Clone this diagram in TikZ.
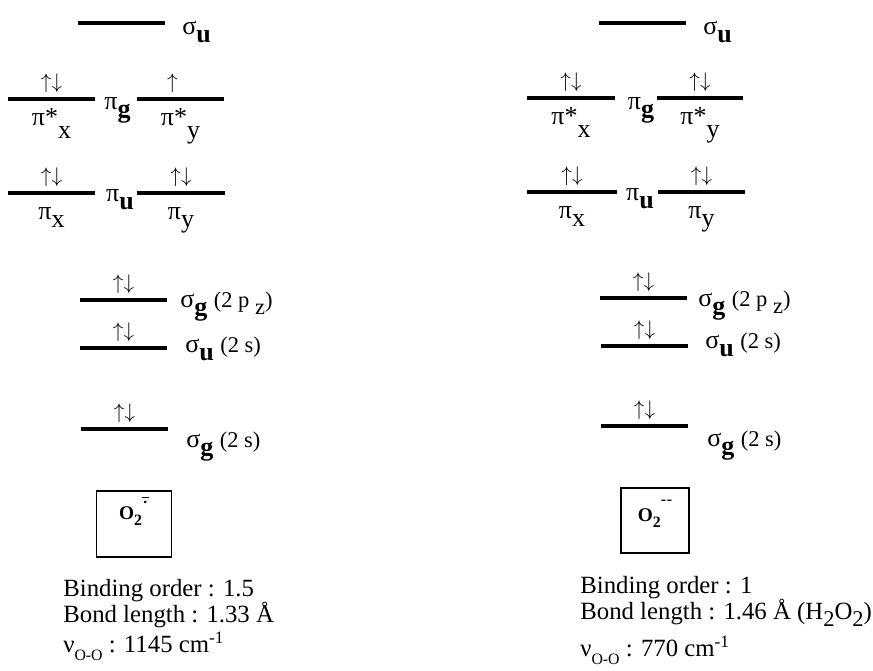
\documentclass[tikz,border=0pt]{standalone}
\usepackage{fontspec}
\setmainfont{Liberation Serif}
\usetikzlibrary{positioning}

\newcommand\orbsub[1]{\raisebox{-0.3em}{#1}}
\newcommand\starsub[1]{\raisebox{-0.5em}{#1}}
\newcommand\pair{$\uparrow\downarrow$}
\newcommand\smallfs{\fontsize{12.8}{14}\selectfont}
\newcommand\tinyfs{\fontsize{9}{10}\selectfont}
\newcommand\ionfs{\fontsize{11}{12}\selectfont}

\tikzset{
	level/.style={line width=1.8pt},
	spins/.style={above=2.5pt, inner sep=0pt, font=\fontsize{12}{13}\selectfont},
	orbname/.style={anchor=base, inner sep=0pt, yshift=-0.54cm},
	orblabel/.style={anchor=base west, inner sep=0pt},
	ionbox/.style={draw, line width=1.1pt, inner sep=0pt, font=\ionfs\bfseries},
	info/.style={anchor=base west, inner sep=0pt, font=\fontsize{14.1}{17}\selectfont}
}

\begin{document}
\begin{tikzpicture}[every node/.style={font=\fontsize{14.8}{17}\selectfont}]
	\useasboundingbox (0,0) rectangle (17.46,13.42);
	\draw[level] (1.56,12.96) -- ++(1.74,0);
	\node[orblabel] (Lsu) at (3.64,12.72) {σ\orbsub{\textbf{u}}};
	\draw[level] (0.16,11.44) -- ++(1.74,0) node[midway, spins] (Lpgxe) {\pair} node[midway, orbname] (Lpgx) {π*\starsub{x}};
	\node[anchor=base, inner sep=0pt] (Lpg) at (2.35,11.22) {π\orbsub{\textbf{g}}};
	\draw[level] (2.74,11.44) -- ++(1.74,0) node[midway, spins] (Lpgye) {$\uparrow\phantom{\downarrow}$} node[midway, orbname] (Lpgy) {π*\starsub{y}};
	\draw[level] (0.16,9.56) -- ++(1.74,0) node[midway, spins] (Lpuxe) {\pair} node[midway, orbname] (Lpux) {π\orbsub{x}};
	\node[anchor=base, inner sep=0pt] (Lpu) at (2.40,9.38) {π\orbsub{\textbf{u}}};
	\draw[level] (2.74,9.56) -- ++(1.76,0) node[midway, spins] (Lpuye) {\pair} node[midway, orbname] (Lpuy) {π\orbsub{y}};
	\draw[level] (1.60,7.42) -- ++(1.74,0) node[midway, spins] (Lsgpe) {\pair};
	\node[orblabel] (Lsgp) at (3.60,7.26) {σ\orbsub{\textbf{g}} {\smallfs(2 p \orbsub{z})}};
	\draw[level] (1.60,6.46) -- ++(1.74,0) node[midway, spins] (Lsuse) {\pair};
	\node[orblabel] (Lsus) at (3.70,6.36) {σ\orbsub{\textbf{u}} {\smallfs(2 s)}};
	\draw[level] (1.62,4.84) -- ++(1.74,0) node[midway, spins] (Lsgse) {\pair};
	\node[orblabel] (Lsgs) at (3.72,4.46) {σ\orbsub{\textbf{g}} {\smallfs(2 s)}};
	\node[ionbox, minimum width=1.50cm, minimum height=1.32cm, text height=0pt, text depth=4.6pt] (Lion) at (2.68,2.94) {O\orbsub{\tinyfs 2}\rlap{\makebox[4pt]{\raisebox{0.85em}{\tinyfs .}}}\raisebox{1.12em}{\rule{4pt}{0.7pt}}};
	\node[info] (Lbo) at (1.26,1.48) {Binding order : 1.5};
	\node[info] (Lbl) at (1.26,0.96) {Bond length : 1.33 Å};
	\node[info] (Lnu) at (1.26,0.36) {ν\orbsub{\tinyfs O-O} : 1145 cm\textsuperscript{-1}};
	\draw[level] (11.98,12.96) -- ++(1.74,0);
	\node[orblabel] (Rsu) at (14.06,12.72) {σ\orbsub{\textbf{u}}};
	\draw[level] (10.54,11.46) -- ++(1.76,0) node[midway, spins] (Rpgxe) {\pair} node[midway, orbname] (Rpgx) {π*\starsub{x}};
	\node[anchor=base, inner sep=0pt] (Rpg) at (12.82,11.22) {π\orbsub{\textbf{g}}};
	\draw[level] (13.14,11.46) -- ++(1.72,0) node[midway, spins] (Rpgye) {\pair} node[midway, orbname] (Rpgy) {π*\starsub{y}};
	\draw[level] (10.54,9.58) -- ++(1.80,0) node[midway, spins] (Rpuxe) {\pair} node[midway, orbname] (Rpux) {π\orbsub{x}};
	\node[anchor=base, inner sep=0pt] (Rpu) at (12.80,9.40) {π\orbsub{\textbf{u}}};
	\draw[level] (13.16,9.58) -- ++(1.74,0) node[midway, spins] (Rpuye) {\pair} node[midway, orbname] (Rpuy) {π\orbsub{y}};
	\draw[level] (12.00,7.46) -- ++(1.74,0) node[midway, spins] (Rsgpe) {\pair};
	\node[orblabel] (Rsgp) at (13.96,7.28) {σ\orbsub{\textbf{g}} {\smallfs(2 p \orbsub{z})}};
	\draw[level] (12.02,6.50) -- ++(1.74,0) node[midway, spins] (Rsuse) {\pair};
	\node[orblabel] (Rsus) at (14.10,6.44) {σ\orbsub{\textbf{u}} {\smallfs(2 s)}};
	\draw[level] (12.02,4.90) -- ++(1.74,0) node[midway, spins] (Rsgse) {\pair};
	\node[orblabel] (Rsgs) at (14.14,4.48) {σ\orbsub{\textbf{g}} {\smallfs(2 s)}};
	\node[ionbox, minimum width=1.36cm, minimum height=1.30cm, text height=1.7pt, text depth=0pt] (Rion) at (13.10,3.01) {O\orbsub{\tinyfs 2}\raisebox{0.9em}{\tinyfs -\kern0.5pt-}};
	\node[info] (Rbo) at (11.60,1.54) {Binding order : 1};
	\node[info] (Rbl) at (11.60,1.04) {Bond length : 1.46 Å (H\orbsub{\smallfs 2}O\orbsub{\smallfs 2})};
	\node[info] (Rnu) at (11.60,0.28) {ν\orbsub{\tinyfs O-O} : 770 cm\textsuperscript{-1}};
\end{tikzpicture}
\end{document}
